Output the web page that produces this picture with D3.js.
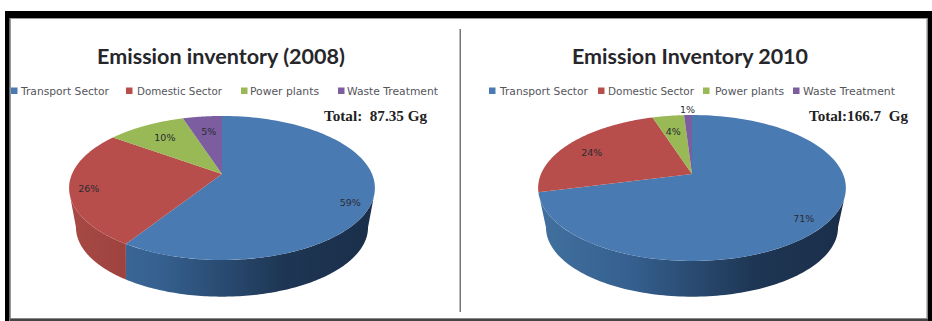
<!DOCTYPE html>
<html>
<head>
<meta charset="utf-8">
<script src="https://cdn.jsdelivr.net/npm/d3@7"></script>
<style>
  html, body { margin: 0; padding: 0; background: #fff; }
  svg { display: block; }
</style>
</head>
<body>
<svg id="chart" width="932" height="321"></svg>
<script>
// Emission inventory shares by sector, in percent
const sectors = ["Transport Sector", "Domestic Sector", "Power plants", "Waste Treatment"];
const shares2008 = [59, 26, 10, 5];
const shares2010 = [71, 24, 4, 1];
const sectorColors = ["#4a7ab2", "#b74e4b", "#98b955", "#7c5da0"];
const titles = ["Emission inventory (2008)", "Emission Inventory 2010"];
const totals = ["Total:  87.35 Gg", "Total:166.7  Gg"];

// Layout for each panel: pie projection, legend slots and label nudges
const panels = [
  {
    values: shares2008, title: titles[0], total: totals[0],
    cx: 222, apexY: 174, A: 150, B: 69.3, k: 0.194,
    titleX: 221, titleW: 248, totalX: 324, totalW: 103,
    swatchX: [11, 126, 241, 338], textX: [21, 137, 250, 347], textW: [88, 85, 69, 91],
    nudge: [[0, 11], [-4, 3], [9, 6], [4, 8]]
  },
  {
    values: shares2010, title: titles[1], total: totals[1],
    cx: 692, apexY: 174, A: 151, B: 70.3, k: 0.192,
    titleX: 690, titleW: 236, totalX: 809, totalW: 99,
    swatchX: [489, 598, 703, 793], textX: [500, 608, 715, 803], textW: [88, 86, 69, 92],
    nudge: [[-1, 4], [4, 5], [2, 8], [-1, -13]]
  }
];

const svg = d3.select("#chart");
const defs = svg.append("defs");
const color = d3.scaleOrdinal().domain(sectors).range(sectorColors);

// Frame round the whole figure: black band with a grey inner edge
const frame = svg.append("g");
const bar = (x, y, w, h, fill) => frame.append("rect")
  .attr("x", x).attr("y", y).attr("width", w).attr("height", h).attr("fill", fill);
bar(9.5, 18, 918, 1, "#999");
bar(9.5, 18, 1.5, 301, "#999");
bar(926.5, 18, 1.5, 301, "#888");
bar(10, 318, 918, 1.2, "#888");
bar(10, 319, 918, 2, "#444");
bar(5, 11, 927, 7, "#000");
bar(5, 11, 4.5, 310, "#000");
bar(928, 11, 4, 310, "#000");
// Rule between the two panels
bar(459.5, 29, 1.5, 283, "#777");

const pie = d3.pie().sort(null).value(d => d);
// Lower face of the disc: smaller and with stronger perspective than the top face
const LOW_A = 141.4, LOW_B = 65, LOW_K = 0.25, LOW_DROP = 36;
// Only the part of the wall turned to the viewer is drawn
const FACING_COS = -0.25;

panels.forEach((p, pi) => {
  // Perspective projection of a point on the unit disc onto the page
  const projectWith = (A, B, k, dy) => (angle, r) => {
    const u = r * Math.sin(angle), v = r * Math.cos(angle), w = 1 + k * v;
    return [p.cx + A * u / w, p.apexY + dy - B * v / w];
  };
  const project = projectWith(p.A, p.B, p.k, 0);
  const projectLow = projectWith(LOW_A, LOW_B, LOW_K, LOW_DROP);
  const line = d3.line();
  const slices = pie(p.values);
  const sampleAngles = (a0, a1) => d3.range(0, 121).map(i => a0 + (a1 - a0) * i / 120);

  // Side wall gradients
  const left = p.cx - p.A * 1.02, right = p.cx + p.A * 1.02;
  const blueGrad = defs.append("linearGradient").attr("id", "wallBlue" + pi)
    .attr("gradientUnits", "userSpaceOnUse").attr("x1", left).attr("x2", right).attr("y1", 0).attr("y2", 0);
  blueGrad.append("stop").attr("offset", "0").attr("stop-color", "#41709f");
  blueGrad.append("stop").attr("offset", "0.3").attr("stop-color", "#35608f");
  blueGrad.append("stop").attr("offset", "0.7").attr("stop-color", "#1e3654");
  blueGrad.append("stop").attr("offset", "1").attr("stop-color", "#1a2e49");
  const redGrad = defs.append("linearGradient").attr("id", "wallRed" + pi)
    .attr("gradientUnits", "userSpaceOnUse").attr("x1", left).attr("x2", p.cx).attr("y1", 0).attr("y2", 0);
  redGrad.append("stop").attr("offset", "0").attr("stop-color", "#a84a45");
  redGrad.append("stop").attr("offset", "1").attr("stop-color", "#8a3634");

  const g = svg.append("g");
  const facing0 = Math.acos(FACING_COS), facing1 = 2 * Math.PI - facing0;

  // Side walls, one strip per slice, clipped to the viewer-facing arc
  const walls = slices
    .map((d, i) => ({ i, a0: Math.max(d.startAngle, facing0), a1: Math.min(d.endAngle, facing1) }))
    .filter(d => d.a1 > d.a0);
  g.selectAll("path.wall").data(walls).join("path").attr("class", "wall")
    .attr("d", d => {
      const angles = sampleAngles(d.a0, d.a1);
      const top = angles.map(a => project(a, 1));
      const bottom = angles.slice().reverse().map(a => projectLow(a, 1));
      return line(top.concat(bottom)) + "Z";
    })
    .attr("fill", d => d.i === 0 ? `url(#wallBlue${pi})` : d.i === 1 ? `url(#wallRed${pi})` : d3.color(sectorColors[d.i]).darker(0.6));

  // Top face
  g.selectAll("path.face").data(slices).join("path").attr("class", "face")
    .attr("d", d => {
      const rim = sampleAngles(d.startAngle, d.endAngle).map(a => project(a, 1));
      return line([project(0, 0)].concat(rim)) + "Z";
    })
    .attr("fill", (d, i) => color(sectors[i]));

  // Slice percentages
  g.selectAll("text.pct").data(slices).join("text").attr("class", "pct")
    .attr("transform", (d, i) => {
      const [x, y] = project((d.startAngle + d.endAngle) / 2, 0.85);
      return `translate(${x + p.nudge[i][0]},${y + p.nudge[i][1]})`;
    })
    .attr("text-anchor", "middle").attr("dy", "0.35em")
    .attr("font-family", "'DejaVu Sans', sans-serif").attr("font-size", 9.5).attr("fill", "#2b2b33")
    .text(d => d.value + "%");

  // Heading
  svg.append("text").attr("x", p.titleX).attr("y", 64).attr("text-anchor", "middle")
    .attr("textLength", p.titleW).attr("lengthAdjust", "spacingAndGlyphs")
    .attr("font-family", "Lato, sans-serif").attr("font-weight", 700).attr("font-size", 20).attr("fill", "#26262b")
    .text(p.title);

  // Legend
  const legend = svg.append("g");
  legend.selectAll("rect").data(sectors).join("rect")
    .attr("x", (d, i) => p.swatchX[i]).attr("y", 87.5).attr("width", 6.5).attr("height", 6.5)
    .attr("fill", d => color(d));
  legend.selectAll("text").data(sectors).join("text")
    .attr("x", (d, i) => p.textX[i]).attr("y", 94.5)
    .attr("textLength", (d, i) => p.textW[i]).attr("lengthAdjust", "spacingAndGlyphs")
    .attr("font-family", "'DejaVu Sans', sans-serif").attr("font-size", 10.5).attr("fill", "#55555b")
    .text(d => d);

  // Total
  svg.append("text").attr("x", p.totalX).attr("y", 121)
    .attr("textLength", p.totalW).attr("lengthAdjust", "spacingAndGlyphs")
    .attr("font-family", "'Liberation Serif', serif").attr("font-weight", 700).attr("font-size", 14).attr("fill", "#222")
    .style("white-space", "pre")
    .text(p.total);
});
</script>
</body>
</html>
